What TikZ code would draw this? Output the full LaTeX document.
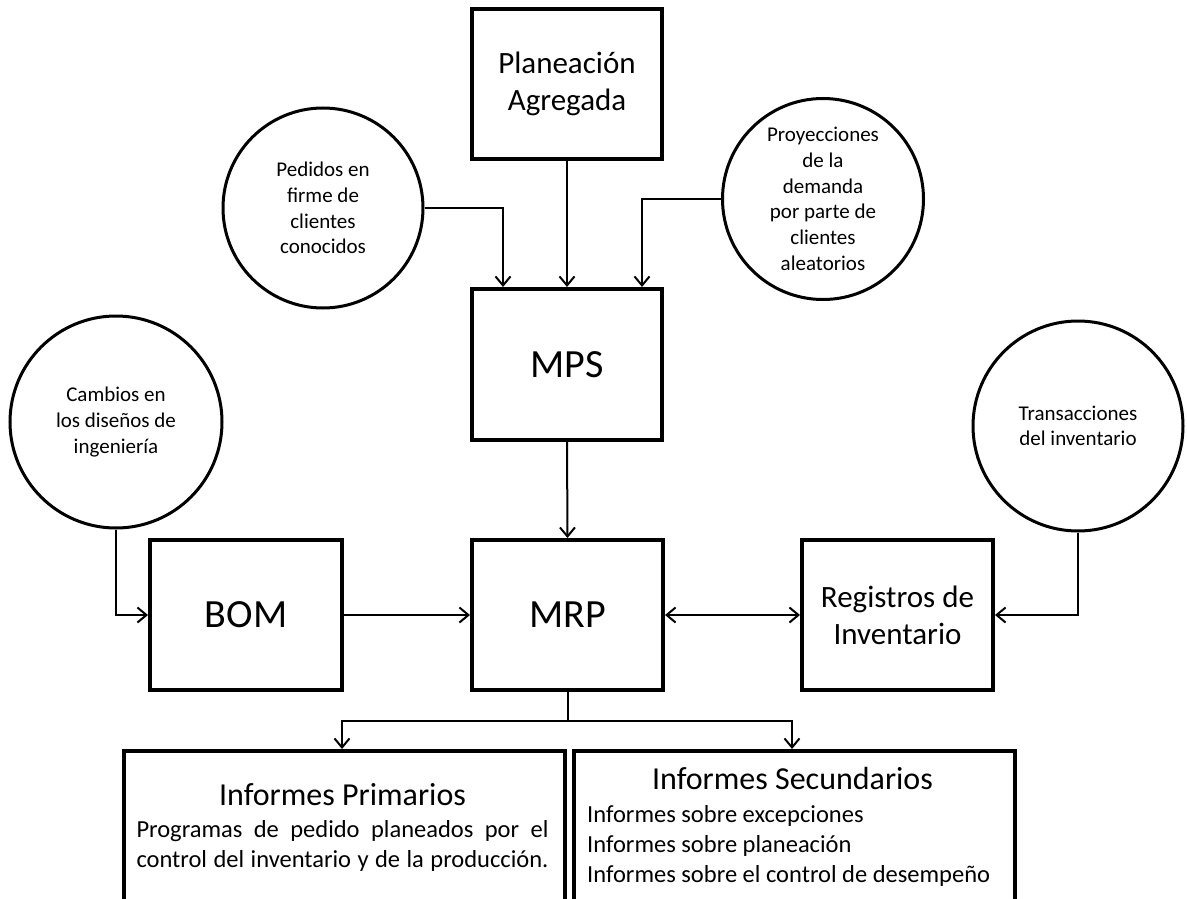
\documentclass[tikz,border=0pt]{standalone}
\usepackage{fontspec}
\setmainfont{Carlito}
\usetikzlibrary{arrows.meta,calc}
\begin{document}
\begin{tikzpicture}[x=1pt,y=-1pt,
  box/.style={draw,line width=4pt,rectangle,inner sep=0pt,align=center,
    font=\fontsize{31}{37}\selectfont},
  bigbox/.style={box,font=\fontsize{40}{46}\selectfont},
  bubble/.style={draw,line width=3pt,circle,inner sep=0pt,align=center,
    font=\fontsize{21}{25.7}\selectfont},
  report/.style={draw,line width=4pt,rectangle,inner sep=0pt,
    minimum width=441pt,minimum height=170pt,anchor=north west},
  link/.style={line width=2pt,-{Straight Barb[length=9pt,width=15pt]}},
  biglabel/.style={inner sep=0pt,anchor=base,font=\fontsize{32}{38}\selectfont},
  smalllabel/.style={inner sep=0pt,anchor=base,font=\fontsize{24.5}{30}\selectfont}]
\useasboundingbox (0,0) rectangle (1187,899);

% boxes
\node[box,minimum width=190pt,minimum height=150pt] (plan) at (567,84) {Planeación\\Agregada};
\node[bigbox,minimum width=190pt,minimum height=151pt] (mps) at (567,364.5) {MPS};
\node[bigbox,minimum width=191pt,minimum height=150pt] (mrp) at (567.5,615) {MRP};
\node[bigbox,minimum width=192pt,minimum height=150pt] (bom) at (246,615) {BOM};
\node[box,minimum width=191pt,minimum height=150pt] (reg) at (897.5,615) {Registros de\\Inventario};

% inputs
\node[bubble,minimum size=200pt] (ped) at (323,208) {Pedidos en\\firme de\\clientes\\conocidos};
\node[bubble,minimum size=201pt] (proy) at (823,199) {Proyecciones\\de la\\demanda\\por parte de\\clientes\\aleatorios};
\node[bubble,minimum size=212pt] (camb) at (116,422) {Cambios en\\los diseños de\\ingeniería};
\node[bubble,minimum size=210pt] (trans) at (1078,426) {Transacciones\\del inventario};

% report boxes
\node[report] (prim) at (122,749) {};
\node[report] (sec) at (572,749) {};

\node[biglabel] (primt) at (342.5,805) {Informes Primarios};
\node[smalllabel] (prim1) at (342.5,837) {\hbox to 412pt{Programas\hfill de\hfill pedido\hfill planeados\hfill por\hfill el}};
\node[smalllabel] (prim2) at (342.5,867) {\hbox to 412pt{control del inventario y de la producción.}};

\node[biglabel] (sect) at (792.5,789) {Informes Secundarios};
\node[smalllabel,anchor=base west] (sec1) at (587,822) {Informes sobre excepciones};
\node[smalllabel,anchor=base west] (sec2) at (587,852) {Informes sobre planeación};
\node[smalllabel,anchor=base west] (sec3) at (587,882) {Informes sobre el control de desempeño};

% connectors
\coordinate (inL) at ([xshift=-64pt]mps.north);
\coordinate (inR) at ([xshift=75pt]mps.north);
\draw[link] (ped.east) -| (inL);
\draw[link] (proy.west) -| (inR);
\draw[link] (plan.south) -- (mps.north);
\draw[link] (mps.south) -- (mrp.north);
\draw[link] (camb.south) |- (bom.west);
\draw[link] (bom.east) -- (mrp.west);
\draw[line width=2pt,{Straight Barb[length=9pt,width=15pt]}-{Straight Barb[length=9pt,width=15pt]}] (mrp.east) -- (reg.west);
\draw[link] (trans.south) |- (reg.east);

\coordinate (split) at ([yshift=-29pt]mrp.south);
\draw[line width=2pt] (mrp.south) -- (split);
\draw[link] (split) -| ([xshift=220pt]prim.north west);
\draw[link] (split) -| ([xshift=220pt]sec.north west);
\end{tikzpicture}
\end{document}
